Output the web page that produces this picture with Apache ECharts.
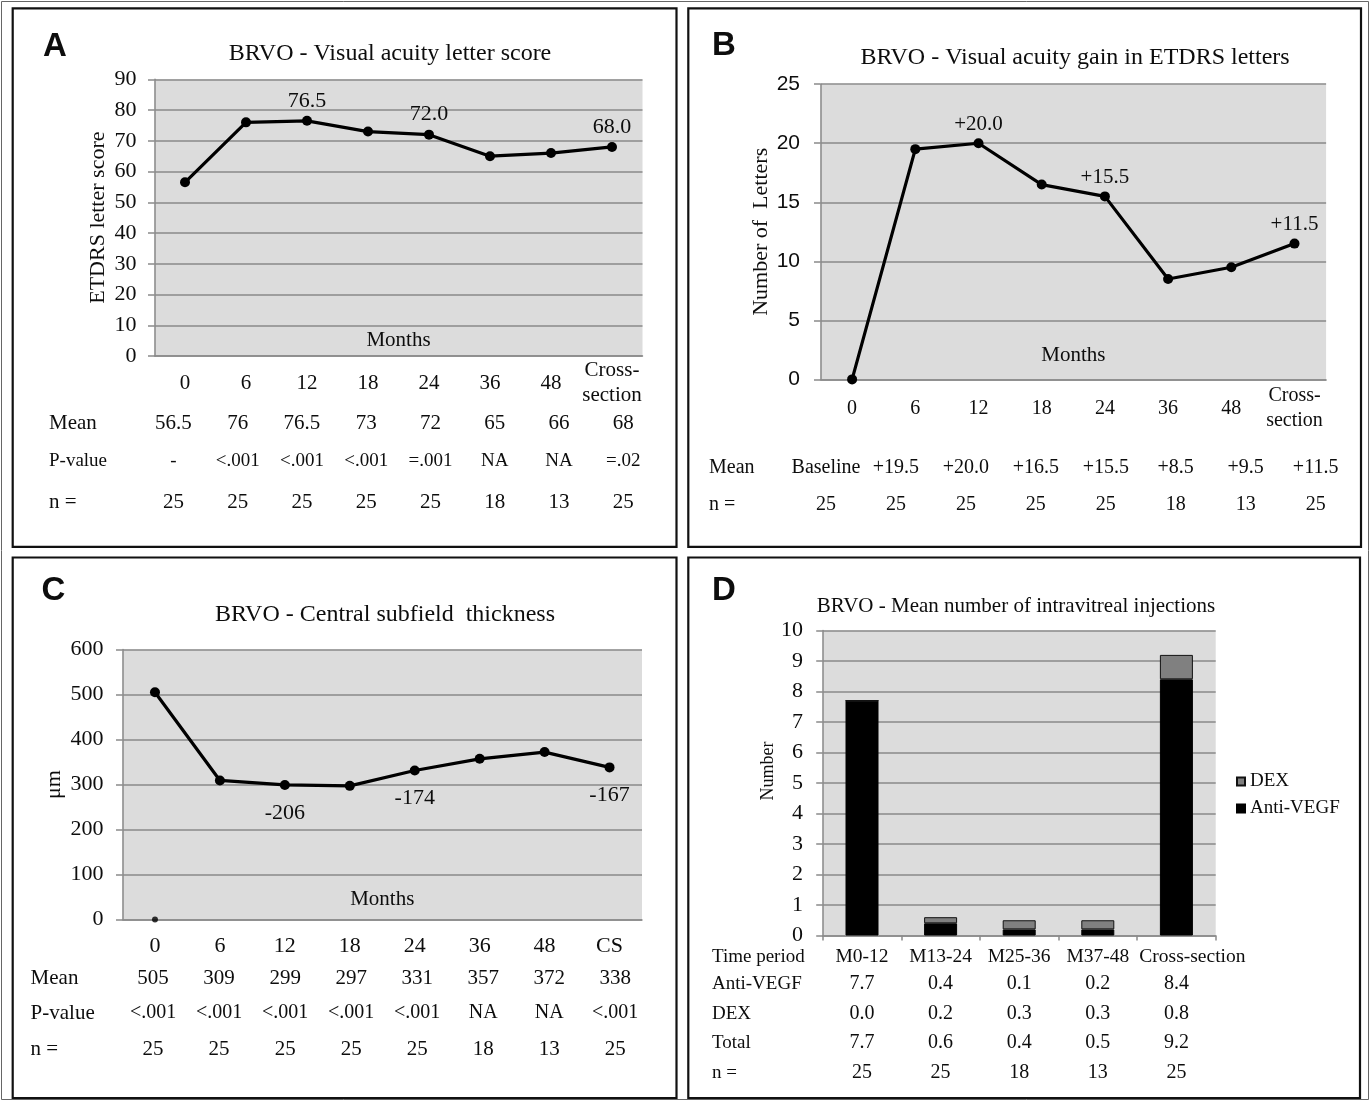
<!DOCTYPE html>
<html>
<head>
<meta charset="utf-8">
<script src="https://cdn.jsdelivr.net/npm/echarts/dist/echarts.min.js"></script>
<style>
html,body{margin:0;padding:0;background:#ffffff;}
#chart{width:1370px;height:1101px;}
</style>
</head>
<body>
<div id="chart"></div>
<script>
// ---------------- DATA ----------------
// Panel A: BRVO - Visual acuity letter score
const monthsA = ['0', '6', '12', '18', '24', '36', '48', 'Cross-\nsection'];
const scoreA = [56.5, 76, 76.5, 73, 72, 65, 66, 68];
const pointLabelsA = ['', '', '76.5', '', '72.0', '', '', '68.0'];
const yTicksA = {min: 0, max: 90, step: 10};
const meanA = ['56.5', '76', '76.5', '73', '72', '65', '66', '68'];
const pValueA = ['-', '<.001', '<.001', '<.001', '=.001', 'NA', 'NA', '=.02'];
const nA = ['25', '25', '25', '25', '25', '18', '13', '25'];

// Panel B: BRVO - Visual acuity gain in ETDRS letters
const monthsB = ['0', '6', '12', '18', '24', '36', '48', 'Cross-\nsection'];
const gainB = [0, 19.5, 20, 16.5, 15.5, 8.5, 9.5, 11.5];
const pointLabelsB = ['', '', '+20.0', '', '+15.5', '', '', '+11.5'];
const yTicksB = {min: 0, max: 25, step: 5};
const meanB = ['Baseline', '+19.5', '+20.0', '+16.5', '+15.5', '+8.5', '+9.5', '+11.5'];
const nB = ['25', '25', '25', '25', '25', '18', '13', '25'];

// Panel C: BRVO - Central subfield thickness
const monthsC = ['0', '6', '12', '18', '24', '36', '48', 'CS'];
const thicknessC = [505, 309, 299, 297, 331, 357, 372, 338];
const strayPointC = [['0', 0]];
const pointLabelsC = ['', '', '-206', '', '-174', '', '', '-167'];
const yTicksC = {min: 0, max: 600, step: 100};
const meanC = ['505', '309', '299', '297', '331', '357', '372', '338'];
const pValueC = ['<.001', '<.001', '<.001', '<.001', '<.001', 'NA', 'NA', '<.001'];
const nC = ['25', '25', '25', '25', '25', '18', '13', '25'];

// Panel D: BRVO - Mean number of intravitreal injections
const periodsD = ['M0-12', 'M13-24', 'M25-36', 'M37-48', 'Cross-section'];
const antiVegfD = [7.7, 0.4, 0.2, 0.2, 8.4];
const dexD = [0, 0.2, 0.3, 0.3, 0.8];
const yTicksD = {min: 0, max: 10, step: 1};
const tableAntiVegfD = ['7.7', '0.4', '0.1', '0.2', '8.4'];
const tableDexD = ['0.0', '0.2', '0.3', '0.3', '0.8'];
const tableTotalD = ['7.7', '0.6', '0.4', '0.5', '9.2'];
const nD = ['25', '25', '18', '13', '25'];

// ---------------- STYLE / LAYOUT ----------------
const SERIF = "'Liberation Serif', 'Times New Roman', serif";
const SANS = "'Liberation Sans', Arial, sans-serif";
const INK = '#0d0d0d';
const GRID_LINE = '#8a8a8a';
const PLOT_BG = '#dcdcdc';

const grids = [], xAxes = [], yAxes = [], series = [], graphics = [];

function txt(x, y, text, size, o) {
  o = o || {};
  const family = o.family || SERIF;
  const weight = o.weight || 'normal';
  const align = o.align || 'center';
  return {
    type: 'text', x: x, y: y, rotation: o.rotation || 0, silent: true, z: 50,
    style: {
      text: text, fill: INK,
      font: weight + ' ' + size + 'px ' + family,
      align: align, textAlign: align,
      verticalAlign: 'middle', textVerticalAlign: 'middle'
    }
  };
}

function addPlot(p) {
  const gi = grids.length;
  grids.push({left: p.left, top: p.top, width: p.width, height: p.height,
    show: true, backgroundColor: PLOT_BG, borderWidth: 0, containLabel: false, outerBoundsMode: 'none'});
  const xi = xAxes.length;
  const xa = {
    type: 'category', gridIndex: gi, data: p.cats, boundaryGap: true,
    axisLine: {show: true, onZero: false, lineStyle: {color: GRID_LINE, width: 1.5}},
    axisTick: p.xTicks ? {show: true, length: 5, interval: 0, lineStyle: {color: GRID_LINE, width: 1.5}} : {show: false},
    splitLine: {show: false},
    axisLabel: {show: true, interval: 0, color: INK, fontFamily: SERIF, fontSize: p.catFont,
      margin: p.catMargin, verticalAlign: 'middle', lineHeight: p.catLineHeight || p.catFont + 3}
  };
  if (p.catRich) {
    xa.axisLabel.formatter = p.catFormatter;
    xa.axisLabel.rich = p.catRich;
  }
  if (p.xName) {
    xa.name = p.xName; xa.nameLocation = 'middle'; xa.nameGap = p.xNameGap; xa.nameMoveOverlap = false;
    xa.nameTextStyle = {color: INK, fontFamily: SERIF, fontSize: p.xNameFont, verticalAlign: 'middle', align: 'center'};
  }
  xAxes.push(xa);
  const yi = yAxes.length;
  const ya = {
    type: 'value', gridIndex: gi, min: p.yTicks.min, max: p.yTicks.max, interval: p.yTicks.step,
    axisLine: {show: true, lineStyle: {color: GRID_LINE, width: 1.5}},
    axisTick: {show: true, length: 6.5, lineStyle: {color: GRID_LINE, width: 1.5}},
    splitLine: {show: true, lineStyle: {color: GRID_LINE, width: 1.5}},
    axisLabel: {color: INK, fontFamily: p.yFontFamily || SERIF, fontSize: p.yFont, margin: p.yMargin}
  };
  if (p.yName) {
    ya.name = p.yName; ya.nameLocation = 'middle'; ya.nameGap = p.yNameGap; ya.nameRotate = 90; ya.nameMoveOverlap = false;
    ya.nameTextStyle = {color: INK, fontFamily: SERIF, fontSize: p.yNameFont, verticalAlign: 'middle', align: 'center'};
  }
  yAxes.push(ya);
  return {xi: xi, yi: yi, gi: gi};
}

function addLineSeries(ax, values, labels, lp) {
  series.push({
    type: 'line', xAxisIndex: ax.xi, yAxisIndex: ax.yi,
    data: values.map((v, i) => ({value: v, label: labels[i] ? {show: true, formatter: labels[i]} : {show: false}})),
    symbol: 'circle', symbolSize: 10, showSymbol: true,
    lineStyle: {color: '#000', width: 3.2}, itemStyle: {color: '#000'},
    label: {position: lp.position, distance: lp.distance, color: INK, fontFamily: SERIF, fontSize: lp.font},
    emphasis: {disabled: true}, z: 5
  });
}

function tableRowAxis(gridIdx, base, r) {
  return {
    type: 'category', gridIndex: gridIdx, data: r.values, position: 'bottom', offset: r.y - base,
    axisLine: {show: false, onZero: false}, axisTick: {show: false}, splitLine: {show: false},
    axisLabel: {show: true, interval: 0, margin: 0, verticalAlign: 'middle', color: INK,
      fontFamily: SERIF, fontSize: r.font}
  };
}

function addTable(t) {
  const gi = grids.length;
  grids.push({left: t.left, top: t.top, width: t.width, height: 1, show: false, containLabel: false, outerBoundsMode: 'none'});
  yAxes.push({type: 'value', gridIndex: gi, show: false, min: 0, max: 1});
  const base = t.top + 1;
  t.rows.forEach(r => {
    xAxes.push(tableRowAxis(gi, base, r));
    graphics.push(txt(t.labelX, r.y, r.label, r.labelFont || r.font, {align: 'left'}));
  });
}

// ---------- Panel A ----------
const axA = addPlot({left: 154.5, top: 79.3, width: 488, height: 276.7, cats: monthsA,
  catFont: 21, catMargin: 27, catLineHeight: 24.5, xName: 'Months', xNameGap: -16, xNameFont: 21,
  yTicks: yTicksA, yFont: 22, yMargin: 18, yName: 'ETDRS letter score', yNameGap: 56.5, yNameFont: 22});
addLineSeries(axA, scoreA, pointLabelsA, {position: 'top', distance: 4, font: 22});
addTable({left: 141.3, top: 399, width: 514, labelX: 49, rows: [
  {label: 'Mean', values: meanA, y: 423, font: 21},
  {label: 'P-value', values: pValueA, y: 461, font: 19},
  {label: 'n =', values: nA, y: 502, font: 21}
]});
graphics.push(txt(390, 54, 'BRVO - Visual acuity letter score', 24));
graphics.push(txt(55, 47, 'A', 33, {family: SANS, weight: 'bold'}));

// ---------- Panel B ----------
const axB = addPlot({left: 820.5, top: 84.2, width: 505.6, height: 295.2, cats: monthsB,
  catFont: 20, catMargin: 29, catLineHeight: 25, xName: 'Months', xNameGap: -24.4, xNameFont: 21,
  yTicks: yTicksB, yFont: 21, yFontFamily: SANS, yMargin: 20.5, yName: 'Number of  Letters', yNameGap: 59, yNameFont: 22});
addLineSeries(axB, gainB, pointLabelsB, {position: 'top', distance: 3.5, font: 21});
addTable({left: 791, top: 440, width: 559.6, labelX: 709, rows: [
  {label: 'Mean', values: meanB, y: 467.5, font: 20},
  {label: 'n =', values: nB, y: 505, font: 20}
]});
graphics.push(txt(1075, 58, 'BRVO - Visual acuity gain in ETDRS letters', 24));
graphics.push(txt(724, 45.6, 'B', 33, {family: SANS, weight: 'bold'}));

// ---------- Panel C ----------
const axC = addPlot({left: 122.5, top: 649.4, width: 519.5, height: 270.2, cats: monthsC,
  catFont: 22, catMargin: 26.7, xName: 'Months', xNameGap: -20.6, xNameFont: 21,
  yTicks: yTicksC, yFont: 22, yMargin: 19, yName: 'μm', yNameGap: 68, yNameFont: 22});
addLineSeries(axC, thicknessC, pointLabelsC, {position: 'bottom', distance: 12, font: 22});
series.push({type: 'scatter', xAxisIndex: axC.xi, yAxisIndex: axC.yi, data: strayPointC,
  symbol: 'circle', symbolSize: 6, itemStyle: {color: '#000'}, emphasis: {disabled: true}, z: 6});
addTable({left: 120.1, top: 950, width: 528.1, labelX: 30.6, rows: [
  {label: 'Mean', values: meanC, y: 978.7, font: 21},
  {label: 'P-value', values: pValueC, y: 1013, font: 20, labelFont: 21},
  {label: 'n =', values: nC, y: 1049.6, font: 21}
]});
graphics.push(txt(385, 615, 'BRVO - Central subfield  thickness', 24));
graphics.push(txt(53.5, 590.5, 'C', 33, {family: SANS, weight: 'bold'}));

// ---------- Panel D ----------
const gridDTop = 630.5, gridDHeight = 305;
const lastD = periodsD.length - 1;
const axD = addPlot({left: 822.7, top: gridDTop, width: 393, height: gridDHeight, cats: periodsD,
  catFont: 19.5, catMargin: 21.5, xTicks: true,
  catFormatter: (v, i) => (i === lastD ? '{shift|' + v + '}' : v),
  catRich: {shift: {padding: [0, 0, 0, 32], fontFamily: SERIF, fontSize: 19.5, color: INK}},
  yTicks: yTicksD, yFont: 22, yMargin: 19.7});
series.push({type: 'bar', name: 'Anti-VEGF', stack: 'inj', xAxisIndex: axD.xi, yAxisIndex: axD.yi,
  data: antiVegfD, barWidth: 33, itemStyle: {color: '#000000', borderColor: '#000', borderWidth: 1},
  emphasis: {disabled: true}});
series.push({type: 'bar', name: 'DEX', stack: 'inj', xAxisIndex: axD.xi, yAxisIndex: axD.yi,
  data: dexD, barWidth: 33, itemStyle: {color: '#808080', borderColor: '#111', borderWidth: 1},
  emphasis: {disabled: true}});
graphics.push(txt(768, 771, 'Number', 18, {rotation: Math.PI / 2}));
graphics.push(txt(712, 957, 'Time period', 19, {align: 'left'}));
[
  {label: 'Anti-VEGF', values: tableAntiVegfD, y: 984, font: 20, labelFont: 19},
  {label: 'DEX', values: tableDexD, y: 1013.8, font: 20, labelFont: 19},
  {label: 'Total', values: tableTotalD, y: 1043, font: 20, labelFont: 19},
  {label: 'n =', values: nD, y: 1072.8, font: 20, labelFont: 19}
].forEach(r => {
  xAxes.push(tableRowAxis(axD.gi, gridDTop + gridDHeight, r));
  graphics.push(txt(712, r.y, r.label, r.labelFont, {align: 'left'}));
});
graphics.push(txt(1016, 606, 'BRVO - Mean number of intravitreal injections', 21));
graphics.push(txt(724, 590.5, 'D', 33, {family: SANS, weight: 'bold'}));

// ---------- Frames ----------
function frame(x, y, w, h, lw, color) {
  return {type: 'rect', silent: true, z: 1, shape: {x: x, y: y, width: w, height: h},
    style: {fill: 'none', stroke: color, lineWidth: lw}};
}
graphics.push(frame(1.5, 1.5, 1367, 1098, 1, '#666'));
graphics.push(frame(12.7, 8.3, 663.8, 538.5, 2.2, '#111'));
graphics.push(frame(688.3, 8.3, 672.7, 538.5, 2.2, '#111'));
graphics.push(frame(12.7, 557.5, 663.8, 540.5, 2.2, '#111'));
graphics.push(frame(688.3, 557.5, 671.7, 540.5, 2.2, '#111'));

const option = {
  animation: false,
  backgroundColor: '#ffffff',
  textStyle: {fontFamily: SERIF},
  grid: grids,
  xAxis: xAxes,
  yAxis: yAxes,
  series: series,
  legend: {
    data: ['DEX', 'Anti-VEGF'], orient: 'vertical', left: 1236, top: 772, padding: 0,
    icon: 'rect', itemWidth: 8, itemHeight: 8, itemGap: 8, selectedMode: false,
    textStyle: {color: INK, fontFamily: SERIF, fontSize: 19}
  },
  graphic: {elements: graphics}
};

const chart = echarts.init(document.getElementById('chart'), null, {renderer: 'canvas'});
chart.setOption(option);
</script>
</body>
</html>
